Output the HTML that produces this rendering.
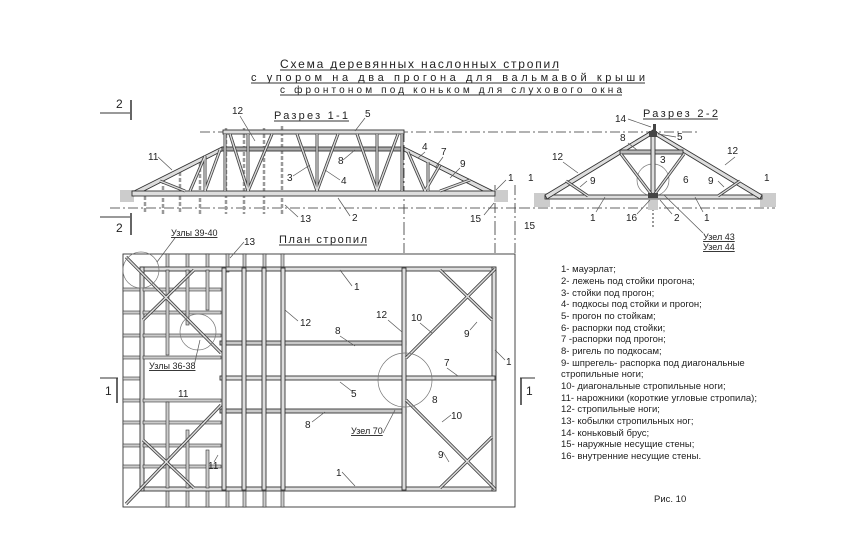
<!DOCTYPE html>
<html><head><meta charset="utf-8"><style>
html,body{margin:0;padding:0;background:#fff}
svg{display:block}
text{font-family:"Liberation Sans",sans-serif;fill:#222}
</style></head><body>
<svg width="847" height="558" viewBox="0 0 847 558" xmlns="http://www.w3.org/2000/svg">
<defs>
<style>
.b{fill:#ddd;stroke:#333;stroke-width:0.9}
.l{stroke:#555;stroke-width:0.7;fill:none}
.d{stroke:#333;stroke-width:0.8;fill:none;stroke-dasharray:10 3 2 3}
.t{font-size:10px}
</style>
</defs>
<!-- Title -->
<text x="280" y="68" font-size="12" textLength="279" lengthAdjust="spacing">Схема деревянных наслонных стропил</text>
<line x1="280" y1="70" x2="559" y2="70" stroke="#333"/>
<text x="251" y="81" font-size="11" textLength="394" lengthAdjust="spacing">с упором на два прогона для вальмавой крыши</text>
<line x1="251" y1="83" x2="645" y2="83" stroke="#333"/>
<text x="280" y="93" font-size="10" textLength="342" lengthAdjust="spacing">с фронтоном под коньком для слухового окна</text>
<line x1="280" y1="95" x2="622" y2="95" stroke="#333"/>

<!-- Section markers 2 -->
<text x="116" y="108" font-size="12">2</text>
<line x1="100" y1="113" x2="130" y2="113" stroke="#333"/><line x1="131" y1="100" x2="131" y2="120" stroke="#333" stroke-width="1.5"/>
<text x="116" y="232" font-size="12">2</text>
<line x1="100" y1="217" x2="130" y2="217" stroke="#333"/><line x1="131" y1="213" x2="131" y2="235" stroke="#333" stroke-width="1.5"/>

<!-- Section 1-1 -->
<text x="274" y="119" font-size="11" textLength="74" lengthAdjust="spacing">Разрез 1-1</text>
<line x1="274" y1="121" x2="349" y2="121" stroke="#333"/>
<line x1="200" y1="132" x2="520" y2="132" class="d"/>
<line x1="110" y1="208" x2="520" y2="208" class="d"/>
<line x1="404" y1="132" x2="404" y2="225" class="d"/>
<line x1="495" y1="185" x2="495" y2="225" class="d"/>
<line x1="515" y1="185" x2="515" y2="225" class="d"/>
<g stroke="#999" stroke-width="2.5" stroke-dasharray="4 2">
<line x1="145" y1="190" x2="145" y2="214"/><line x1="163" y1="180" x2="163" y2="214"/><line x1="180" y1="172" x2="180" y2="214"/><line x1="200" y1="162" x2="200" y2="214"/>
<line x1="226" y1="128" x2="226" y2="214"/><line x1="244" y1="128" x2="244" y2="214"/><line x1="264" y1="128" x2="264" y2="214"/><line x1="282" y1="126" x2="282" y2="214"/>
</g>
<rect x="120" y="190" width="14" height="12" fill="#ccc"/>
<rect x="494" y="190" width="14" height="12" fill="#ccc"/>
<g class="b">
<polygon points="132,192 222,147 222,151 134,196"/>
<polygon points="404,147 495,192 493,196 404,151"/>
<rect x="132" y="191" width="363" height="5"/>
<rect x="223" y="130" width="181" height="4"/>
<rect x="222" y="147" width="182" height="4" fill="#aaa"/>
</g>
<g id="br1" stroke-linecap="butt">
<g stroke="#444" stroke-width="3">
<line x1="225" y1="134" x2="225" y2="191"/><line x1="248" y1="134" x2="248" y2="191"/><line x1="317" y1="134" x2="317" y2="191"/><line x1="377" y1="134" x2="377" y2="191"/><line x1="402" y1="134" x2="402" y2="191"/>
<line x1="230" y1="134" x2="248" y2="191"/><line x1="272" y1="134" x2="248" y2="191"/>
<line x1="297" y1="134" x2="317" y2="191"/><line x1="338" y1="134" x2="317" y2="191"/>
<line x1="357" y1="134" x2="377" y2="191"/><line x1="398" y1="134" x2="377" y2="191"/>
<line x1="205" y1="156" x2="190" y2="191"/><line x1="220" y1="150" x2="205" y2="191"/><line x1="205" y1="156" x2="205" y2="191"/>
<line x1="160" y1="181" x2="185" y2="191"/>
<line x1="408" y1="152" x2="425" y2="191"/><line x1="440" y1="165" x2="425" y2="191"/><line x1="428" y1="162" x2="428" y2="191"/>
<line x1="470" y1="180" x2="440" y2="191"/>
</g>
<g stroke="#ddd" stroke-width="1.3">
<line x1="225" y1="134" x2="225" y2="191"/><line x1="248" y1="134" x2="248" y2="191"/><line x1="317" y1="134" x2="317" y2="191"/><line x1="377" y1="134" x2="377" y2="191"/><line x1="402" y1="134" x2="402" y2="191"/>
<line x1="230" y1="134" x2="248" y2="191"/><line x1="272" y1="134" x2="248" y2="191"/>
<line x1="297" y1="134" x2="317" y2="191"/><line x1="338" y1="134" x2="317" y2="191"/>
<line x1="357" y1="134" x2="377" y2="191"/><line x1="398" y1="134" x2="377" y2="191"/>
<line x1="205" y1="156" x2="190" y2="191"/><line x1="220" y1="150" x2="205" y2="191"/><line x1="205" y1="156" x2="205" y2="191"/>
<line x1="160" y1="181" x2="185" y2="191"/>
<line x1="408" y1="152" x2="425" y2="191"/><line x1="440" y1="165" x2="425" y2="191"/><line x1="428" y1="162" x2="428" y2="191"/>
<line x1="470" y1="180" x2="440" y2="191"/>
</g>
</g>
<g class="t">
<text x="232" y="114">12</text><text x="365" y="117">5</text><text x="148" y="160">11</text>
<text x="287" y="181">3</text><text x="341" y="184">4</text><text x="338" y="164">8</text>
<text x="422" y="150">4</text><text x="441" y="155">7</text><text x="460" y="167">9</text>
<text x="508" y="181">1</text><text x="300" y="222">13</text><text x="352" y="221">2</text><text x="470" y="222">15</text>
</g>
<g class="l">
<line x1="240" y1="116" x2="255" y2="141"/><line x1="365" y1="118" x2="355" y2="131"/><line x1="158" y1="157" x2="172" y2="170"/>
<line x1="293" y1="176" x2="310" y2="165"/><line x1="340" y1="180" x2="325" y2="170"/><line x1="343" y1="160" x2="355" y2="150"/>
<line x1="425" y1="152" x2="418" y2="158"/><line x1="443" y1="157" x2="435" y2="168"/><line x1="460" y1="168" x2="450" y2="178"/>
<line x1="506" y1="180" x2="496" y2="190"/><line x1="298" y1="217" x2="285" y2="205"/><line x1="350" y1="216" x2="338" y2="198"/><line x1="484" y1="215" x2="494" y2="203"/>
</g>

<!-- Section 2-2 -->
<text x="643" y="117" font-size="11" textLength="75" lengthAdjust="spacing">Разрез 2-2</text>
<line x1="643" y1="119" x2="718" y2="119" stroke="#333"/>
<line x1="520" y1="132" x2="700" y2="132" class="d"/>
<line x1="520" y1="208" x2="775" y2="208" class="d"/>
<line x1="653" y1="205" x2="653" y2="228" stroke="#333" stroke-dasharray="2 2"/>
<rect x="534" y="193" width="16" height="14" fill="#ccc"/><rect x="760" y="193" width="16" height="14" fill="#ccc"/><rect x="648" y="200" width="10" height="10" fill="#ccc"/>
<circle cx="653" cy="180" r="16" fill="none" stroke="#777" stroke-width="0.7"/>
<g class="b">
<rect x="545" y="195" width="217" height="4"/>
<polygon points="545,195 653,130 653,134 547,199"/>
<polygon points="653,130 762,195 760,199 653,134"/>
<rect x="620" y="150" width="63" height="4" fill="#bbb"/>
<rect x="651" y="134" width="4" height="62"/>
</g>
<g stroke="#444" stroke-width="3">
<line x1="652" y1="195" x2="621" y2="154"/><line x1="654" y1="195" x2="684" y2="154"/>
<line x1="566" y1="181" x2="588" y2="196"/><line x1="740" y1="181" x2="718" y2="196"/>
</g>
<g stroke="#ddd" stroke-width="1.3">
<line x1="652" y1="195" x2="621" y2="154"/><line x1="654" y1="195" x2="684" y2="154"/>
<line x1="566" y1="181" x2="588" y2="196"/><line x1="740" y1="181" x2="718" y2="196"/>
</g>
<rect x="649" y="131" width="8" height="6" fill="#444"/><rect x="653" y="124" width="3" height="7" fill="#444"/>
<rect x="648" y="193" width="10" height="5" fill="#444"/>
<g class="t">
<text x="615" y="122">14</text><text x="677" y="140">5</text><text x="620" y="141">8</text><text x="552" y="160">12</text>
<text x="727" y="154">12</text><text x="660" y="163">3</text><text x="683" y="183">6</text><text x="590" y="184">9</text>
<text x="708" y="184">9</text><text x="528" y="181">1</text><text x="764" y="181">1</text><text x="524" y="229">15</text>
<text x="590" y="221">1</text><text x="704" y="221">1</text><text x="626" y="221">16</text><text x="674" y="221">2</text>
<text x="703" y="240" text-decoration="underline" font-size="9">Узел 43</text>
<text x="703" y="250" text-decoration="underline" font-size="9">Узел 44</text>
</g>
<g class="l">
<line x1="628" y1="119" x2="651" y2="127"/><line x1="676" y1="137" x2="658" y2="134"/><line x1="628" y1="143" x2="637" y2="150"/>
<line x1="563" y1="162" x2="578" y2="173"/><line x1="735" y1="157" x2="725" y2="165"/><line x1="587" y1="181" x2="580" y2="187"/>
<line x1="718" y1="181" x2="724" y2="187"/><line x1="596" y1="212" x2="605" y2="197"/><line x1="703" y1="212" x2="695" y2="197"/>
<line x1="637" y1="214" x2="650" y2="200"/><line x1="672" y1="214" x2="660" y2="200"/><line x1="703" y1="233" x2="664" y2="195"/>
</g>

<!-- Plan -->
<text x="279" y="243" font-size="11" textLength="88" lengthAdjust="spacing">План стропил</text>
<line x1="279" y1="245" x2="367" y2="245" stroke="#333"/>
<rect x="123" y="254" width="392" height="253" fill="none" stroke="#333" stroke-width="0.9"/>
<line x1="404" y1="225" x2="404" y2="254" class="d"/>
<line x1="495" y1="225" x2="495" y2="254" class="d"/>
<line x1="515" y1="225" x2="515" y2="254" class="d"/>
<g fill="#ccc" stroke="#333" stroke-width="0.6">
<rect x="166" y="254" width="3" height="18"/><rect x="186" y="254" width="3" height="18"/><rect x="206" y="254" width="3" height="18"/><rect x="226" y="254" width="3" height="18"/><rect x="243" y="254" width="3" height="18"/><rect x="263" y="254" width="3" height="18"/><rect x="281" y="254" width="3" height="18"/>
<rect x="166" y="487" width="3" height="20"/><rect x="186" y="487" width="3" height="20"/><rect x="206" y="487" width="3" height="20"/><rect x="226" y="487" width="3" height="20"/><rect x="243" y="487" width="3" height="20"/><rect x="263" y="487" width="3" height="20"/><rect x="281" y="487" width="3" height="20"/>
<rect x="123" y="288" width="20" height="3"/><rect x="123" y="311" width="20" height="3"/><rect x="123" y="334" width="20" height="3"/><rect x="123" y="356" width="20" height="3"/><rect x="123" y="377" width="20" height="3"/><rect x="123" y="399" width="20" height="3"/><rect x="123" y="421" width="20" height="3"/><rect x="123" y="444" width="20" height="3"/><rect x="123" y="465" width="20" height="3"/>
</g>
<g class="b">
<rect x="141" y="267" width="354" height="4"/>
<rect x="141" y="487" width="354" height="4"/>
<rect x="140" y="267" width="4" height="224"/>
<rect x="492" y="267" width="4" height="224"/>
<rect x="220" y="376" width="275" height="4"/>
<rect x="220" y="341" width="186" height="4" fill="#c8c8c8"/>
<rect x="220" y="409" width="186" height="4" fill="#c8c8c8"/>
<rect x="222" y="268" width="4" height="222"/><rect x="242" y="268" width="4" height="222"/><rect x="262" y="268" width="4" height="222"/><rect x="281" y="268" width="4" height="222"/>
<rect x="402" y="268" width="4" height="222"/>
</g>
<g fill="#ccc" stroke="#333" stroke-width="0.6">
<rect x="143" y="288" width="78" height="3"/><rect x="143" y="311" width="78" height="3"/><rect x="143" y="334" width="78" height="3"/><rect x="143" y="356" width="78" height="3"/>
<rect x="143" y="399" width="78" height="3"/><rect x="143" y="421" width="78" height="3"/><rect x="143" y="444" width="78" height="3"/><rect x="143" y="465" width="78" height="3"/>
<rect x="166" y="270" width="3" height="85"/><rect x="186" y="270" width="3" height="55"/><rect x="206" y="270" width="3" height="40"/>
<rect x="166" y="402" width="3" height="86"/><rect x="186" y="430" width="3" height="58"/><rect x="206" y="450" width="3" height="38"/>
</g>
<g stroke="#444" stroke-width="3.2">
<line x1="126" y1="257" x2="221" y2="353"/><line x1="126" y1="504" x2="221" y2="405"/>
<line x1="495" y1="269" x2="406" y2="358"/><line x1="495" y1="489" x2="406" y2="400"/>
<line x1="143" y1="320" x2="194" y2="270"/><line x1="143" y1="440" x2="194" y2="488"/>
<line x1="440" y1="270" x2="492" y2="320"/><line x1="440" y1="488" x2="492" y2="437"/>
</g>
<g stroke="#ddd" stroke-width="1.5">
<line x1="126" y1="257" x2="221" y2="353"/><line x1="126" y1="504" x2="221" y2="405"/>
<line x1="495" y1="269" x2="406" y2="358"/><line x1="495" y1="489" x2="406" y2="400"/>
<line x1="143" y1="320" x2="194" y2="270"/><line x1="143" y1="440" x2="194" y2="488"/>
<line x1="440" y1="270" x2="492" y2="320"/><line x1="440" y1="488" x2="492" y2="437"/>
</g>
<g fill="none" stroke="#777" stroke-width="0.7">
<circle cx="141" cy="270" r="18"/><circle cx="198" cy="332" r="18"/><circle cx="405" cy="380" r="27"/>
</g>
<g class="t">
<text x="171" y="236" font-size="9" text-decoration="underline">Узлы 39-40</text>
<text x="244" y="245">13</text><text x="354" y="290">1</text><text x="300" y="326">12</text><text x="335" y="334">8</text>
<text x="376" y="318">12</text><text x="411" y="321">10</text><text x="464" y="337">9</text><text x="506" y="365">1</text>
<text x="444" y="366">7</text><text x="351" y="397">5</text><text x="432" y="403">8</text><text x="305" y="428">8</text>
<text x="451" y="419">10</text><text x="438" y="458">9</text><text x="336" y="476">1</text>
<text x="149" y="369" font-size="9" text-decoration="underline">Узлы 36-38</text>
<text x="178" y="397">11</text><text x="208" y="469">11</text>
<text x="351" y="434" font-size="9" text-decoration="underline">Узел 70</text>
<text x="105" y="395" font-size="12">1</text><text x="526" y="395" font-size="12">1</text>
</g>
<g class="l">
<line x1="175" y1="238" x2="157" y2="262"/><line x1="244" y1="242" x2="230" y2="258"/><line x1="352" y1="286" x2="340" y2="270"/>
<line x1="298" y1="321" x2="285" y2="310"/><line x1="340" y1="336" x2="355" y2="346"/><line x1="388" y1="320" x2="402" y2="332"/>
<line x1="420" y1="323" x2="432" y2="333"/><line x1="470" y1="330" x2="477" y2="322"/><line x1="505" y1="360" x2="495" y2="350"/>
<line x1="447" y1="368" x2="458" y2="376"/><line x1="353" y1="392" x2="340" y2="382"/><line x1="312" y1="422" x2="325" y2="412"/>
<line x1="451" y1="415" x2="442" y2="422"/><line x1="443" y1="452" x2="449" y2="462"/><line x1="342" y1="472" x2="355" y2="486"/>
<line x1="194" y1="366" x2="200" y2="340"/><line x1="214" y1="462" x2="218" y2="455"/>
<line x1="383" y1="433" x2="395" y2="410"/>
</g>
<g stroke="#333">
<line x1="100" y1="378" x2="118" y2="378"/><line x1="117" y1="378" x2="117" y2="403" stroke-width="1.5"/>
<line x1="520" y1="378" x2="535" y2="378"/><line x1="521" y1="378" x2="521" y2="405" stroke-width="1.5"/>
</g>

<!-- Legend -->
<g font-size="9.5">
<text x="561" y="272">1- мауэрлат;</text>
<text x="561" y="284">2- лежень под стойки прогона;</text>
<text x="561" y="296">3- стойки под прогон;</text>
<text x="561" y="307">4- подкосы под стойки и прогон;</text>
<text x="561" y="319">5- прогон по стойкам;</text>
<text x="561" y="331">6- распорки под стойки;</text>
<text x="561" y="342">7 -распорки под прогон;</text>
<text x="561" y="354">8- ригель по подкосам;</text>
<text x="561" y="366">9- шпрегель- распорка под диагональные</text>
<text x="561" y="377">стропильные ноги;</text>
<text x="561" y="389">10- диагональные стропильные ноги;</text>
<text x="561" y="401">11- нарожники (короткие угловые стропила);</text>
<text x="561" y="412">12- стропильные ноги;</text>
<text x="561" y="424">13- кобылки стропильных ног;</text>
<text x="561" y="436">14- коньковый брус;</text>
<text x="561" y="447">15- наружные несущие стены;</text>
<text x="561" y="459">16- внутренние несущие стены.</text>
<text x="654" y="502">Рис. 10</text>
</g>
</svg>
</body></html>
